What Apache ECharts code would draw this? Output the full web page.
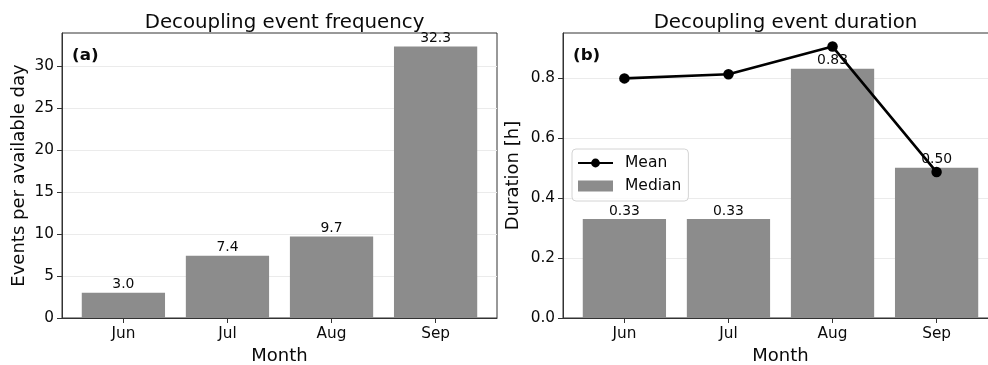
<!DOCTYPE html>
<html>
<head>
<meta charset="utf-8">
<script src="https://cdn.jsdelivr.net/npm/echarts@6/dist/echarts.min.js"></script>
<style>
  html, body { margin: 0; padding: 0; background: #fff; }
  #chart { width: 988px; height: 365px; }
</style>
</head>
<body>
<div id="chart"></div>
<script>
// Monthly decoupling statistics
const months = ['Jun', 'Jul', 'Aug', 'Sep'];
const eventsPerDay = [3.0, 7.4, 9.7, 32.3];
const durationMedian = [0.33, 0.33, 0.83, 0.50];
const durationMean = [0.798, 0.812, 0.904, 0.486];
const freqTicks = [0, 5, 10, 15, 20, 25, 30];
const durTicks = [0, 0.2, 0.4, 0.6, 0.8];
const monthPos = months.map((m, i) => i);

const FONT = 'DejaVu Sans';
const BAR = '#8c8c8c';
const SPINE = '#333333';
const GRIDLINE = '#ebebeb';
const INK = '#0a0a0a';

function xAxisFor(gridIndex) {
  return {
    type: 'value', gridIndex,
    min: -0.59, max: 3.59,
    name: 'Month', nameLocation: 'middle', nameGap: 29,
    nameTextStyle: { fontFamily: FONT, fontSize: 18, color: INK },
    axisLine: { show: true, onZero: false, lineStyle: { color: SPINE, width: 1 } },
    axisTick: { show: true, customValues: monthPos, length: 5, lineStyle: { color: SPINE } },
    axisLabel: {
      customValues: monthPos, margin: 9,
      fontFamily: FONT, fontSize: 15.3, color: INK,
      formatter: v => months[Math.round(v)]
    },
    splitLine: { show: false }
  };
}

function yAxisFor(gridIndex, max, ticks, name, gap, digits) {
  return {
    type: 'value', gridIndex, min: 0, max,
    name, nameLocation: 'middle', nameGap: gap,
    nameTextStyle: { fontFamily: FONT, fontSize: 18, color: INK },
    axisLine: { show: true, onZero: false, lineStyle: { color: SPINE, width: 1 } },
    axisTick: { show: true, customValues: ticks, length: 5, lineStyle: { color: SPINE } },
    axisLabel: {
      customValues: ticks, margin: 8,
      fontFamily: FONT, fontSize: 15.3, color: INK,
      formatter: v => v.toFixed(digits)
    },
    splitLine: { show: true, lineStyle: { color: GRIDLINE, width: 1 } }
  };
}

const chart = echarts.init(document.getElementById('chart'), null, { renderer: 'canvas' });

const gridBase = {
  top: 33, width: 435, height: 285,
  show: true, borderColor: SPINE, borderWidth: 1, backgroundColor: 'transparent',
  containLabel: false, outerBoundsMode: 'none'
};

chart.setOption({
  animation: false,
  backgroundColor: '#fff',
  title: [
    { text: 'Decoupling event frequency', left: 279.5, top: 8, textAlign: 'center',
      textStyle: { fontFamily: FONT, fontSize: 19.8, fontWeight: 'normal', color: INK } },
    { text: 'Decoupling event duration', left: 780.5, top: 8, textAlign: 'center',
      textStyle: { fontFamily: FONT, fontSize: 19.8, fontWeight: 'normal', color: INK } }
  ],
  grid: [
    Object.assign({ left: 62 }, gridBase),
    Object.assign({ left: 563 }, gridBase)
  ],
  xAxis: [xAxisFor(0), xAxisFor(1)],
  yAxis: [
    yAxisFor(0, Math.max(...eventsPerDay) * 1.05, freqTicks, 'Events per available day', 34, 0),
    yAxisFor(1, Math.max(...durationMean) * 1.05, durTicks, 'Duration [h]', 41, 1)
  ],
  legend: {
    left: 572, top: 149,
    orient: 'vertical',
    data: [{ name: 'Mean' }, { name: 'Median', icon: 'rect' }],
    itemWidth: 35, itemHeight: 11, itemGap: 7,
    padding: [6, 7, 7, 5],
    backgroundColor: 'rgba(255,255,255,0.8)',
    borderColor: '#d4d4d4', borderWidth: 1, borderRadius: 4,
    textStyle: { fontFamily: FONT, fontSize: 15.5, color: INK, lineHeight: 16, padding: [0, 0, 0, 7] }
  },
  graphic: [
    { type: 'text', left: 72, top: 47, style: { text: '(a)', font: 'bold 16.7px "DejaVu Sans"', fill: INK } },
    { type: 'text', left: 573, top: 47, style: { text: '(b)', font: 'bold 16.7px "DejaVu Sans"', fill: INK } }
  ],
  series: [
    {
      type: 'bar', name: 'Events', xAxisIndex: 0, yAxisIndex: 0,
      data: eventsPerDay.map((v, i) => [i, v]),
      barWidth: '80%',
      itemStyle: { color: BAR },
      label: { show: true, position: 'top', distance: 1, fontFamily: FONT, fontSize: 13.9, color: INK,
        formatter: p => p.value[1].toFixed(1) },
      z: 2
    },
    {
      type: 'bar', name: 'Median', xAxisIndex: 1, yAxisIndex: 1,
      data: durationMedian.map((v, i) => [i, v]),
      barWidth: '80%',
      itemStyle: { color: BAR },
      label: { show: true, position: 'top', distance: 1, fontFamily: FONT, fontSize: 13.9, color: INK,
        formatter: p => p.value[1].toFixed(2) },
      z: 2
    },
    {
      type: 'line', name: 'Mean', xAxisIndex: 1, yAxisIndex: 1,
      data: durationMean.map((v, i) => [i, v]),
      symbol: 'circle', symbolSize: 10.5,
      lineStyle: { color: '#000', width: 2.6 },
      itemStyle: { color: '#000' },
      z: 5
    }
  ]
});
</script>
</body>
</html>
